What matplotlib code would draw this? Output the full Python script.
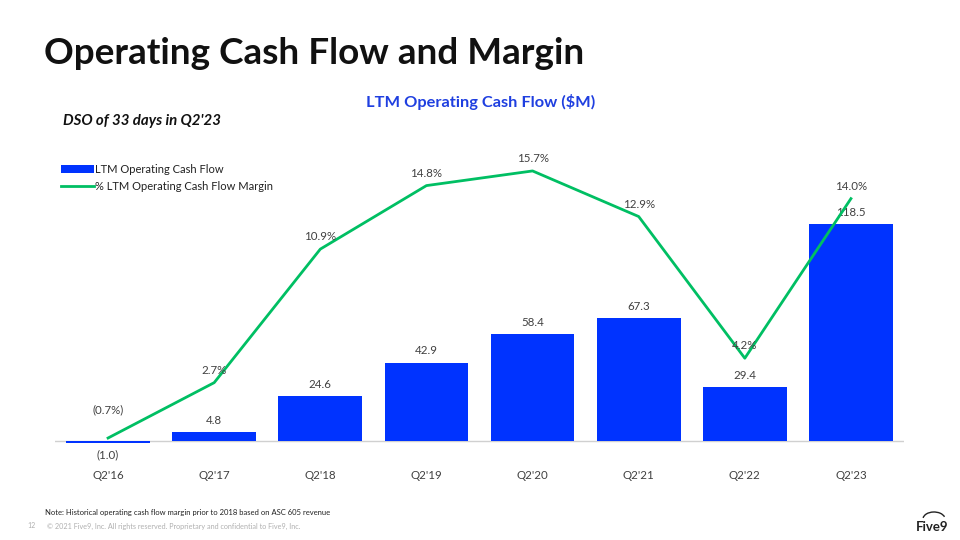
import matplotlib
matplotlib.use("Agg")
import matplotlib.pyplot as plt
from matplotlib.patches import Patch, Arc
from matplotlib.lines import Line2D

categories = ["Q2'16", "Q2'17", "Q2'18", "Q2'19", "Q2'20", "Q2'21", "Q2'22", "Q2'23"]
cash_flow = [-1.0, 4.8, 24.6, 42.9, 58.4, 67.3, 29.4, 118.5]
cash_labels = ["(1.0)", "4.8", "24.6", "42.9", "58.4", "67.3", "29.4", "118.5"]
margin = [-0.7, 2.7, 10.9, 14.8, 15.7, 12.9, 4.2, 14.0]
margin_labels = ["(0.7%)", "2.7%", "10.9%", "14.8%", "15.7%", "12.9%", "4.2%", "14.0%"]

BLUE = "#0033FF"
GREEN = "#00BF63"
TXT = "#404040"
FONT = "Lato"
plt.rcParams['font.family'] = [FONT, 'DejaVu Sans']

W, H = 960, 540
fig = plt.figure(figsize=(9.6, 5.4), dpi=100)
fig.patch.set_facecolor("white")

def fx(px):
    return px / W

def fy(py):
    return 1 - py / H

# axes: x 55..904 px, y 140..460 px
ax = fig.add_axes([fx(55), fy(460), fx(904) - fx(55), (460 - 140) / H])
ax2 = ax.twinx()
x = list(range(len(categories)))

ax.bar(x, cash_flow, width=0.79, color=BLUE, zorder=2)
ax.set_xlim(-0.5, 7.5)
ax.set_ylim(-10.38, 164.5)
ax.axhline(0, color="#D0D0D0", lw=1.0, zorder=1)

for i, (v, lab) in enumerate(zip(cash_flow, cash_labels)):
    if v >= 0:
        ax.annotate(lab, (i, v), xytext=(0, 4.5), textcoords="offset points",
                    ha="center", va="bottom", fontsize=8.3, color=TXT)
    else:
        ax.annotate(lab, (i, v), xytext=(0, -5), textcoords="offset points",
                    ha="center", va="top", fontsize=8.3, color=TXT)

ax2.plot(x, margin, color=GREEN, lw=2, zorder=3)
ax2.set_ylim(-2.05, 17.6)
for i, (v, lab) in enumerate(zip(margin, margin_labels)):
    off = 5 if v >= 0 else 16
    ax2.annotate(lab, (i, v), xytext=(0, off), textcoords="offset points",
                 ha="center", va="bottom", fontsize=8.3, color=TXT)

for a in (ax, ax2):
    for s in a.spines.values():
        s.set_visible(False)
    a.set_yticks([])
ax.set_xticks(x)
ax.set_xticklabels(categories, fontsize=8.3, color=TXT)
ax.tick_params(axis="x", length=0, pad=7)

# Titles
fig.text(fx(44), fy(53), "Operating Cash Flow and Margin", fontsize=26.6, fontweight="bold",
         color="#111111", va="center", ha="left")
fig.text(fx(481), fy(102), "LTM Operating Cash Flow ($M)", fontsize=11.8, fontweight="bold",
         color="#1F3FE0", va="center", ha="center")
fig.text(fx(63), fy(121), "DSO of 33 days in Q2'23", fontsize=10.8, fontweight="bold",
         fontstyle="italic", color="#111111", va="center", ha="left")

# Legend
handles = [Patch(facecolor=BLUE, edgecolor="none"),
           Line2D([0], [0], color=GREEN, lw=2)]
leg = fig.legend(handles, ["LTM Operating Cash Flow", "% LTM Operating Cash Flow Margin"],
                 loc="upper left", bbox_to_anchor=(fx(61), fy(164)), frameon=False,
                 fontsize=8, handlelength=3.0, handletextpad=0.1, labelspacing=0.5,
                 borderaxespad=0, borderpad=0)
for t in leg.get_texts():
    t.set_color("#222222")

# Footer
fig.text(fx(45), fy(513), "Note: Historical operating cash flow margin prior to 2018 based on ASC 605 revenue",
         fontsize=5.5, color="#222222", va="center", ha="left")
fig.text(fx(27), fy(526), "12", fontsize=5, color="#B0B0B0", va="center", ha="left")
fig.text(fx(47), fy(526), "\u00a9 2021 Five9, Inc. All rights reserved. Proprietary and confidential to Five9, Inc.",
         fontsize=5.2, color="#B0B0B0", va="center", ha="left")

# Logo
fig.text(fx(932), fy(527), "Five9", fontsize=9.5, fontweight="bold", color="#222222",
         va="center", ha="center")
arc = Arc((fx(934), fy(519)), fx(22), (14 / H), theta1=20, theta2=170,
          transform=fig.transFigure, color="#222222", lw=1.0)
fig.add_artist(arc)

fig.savefig("out.png", dpi=100, facecolor="white")
